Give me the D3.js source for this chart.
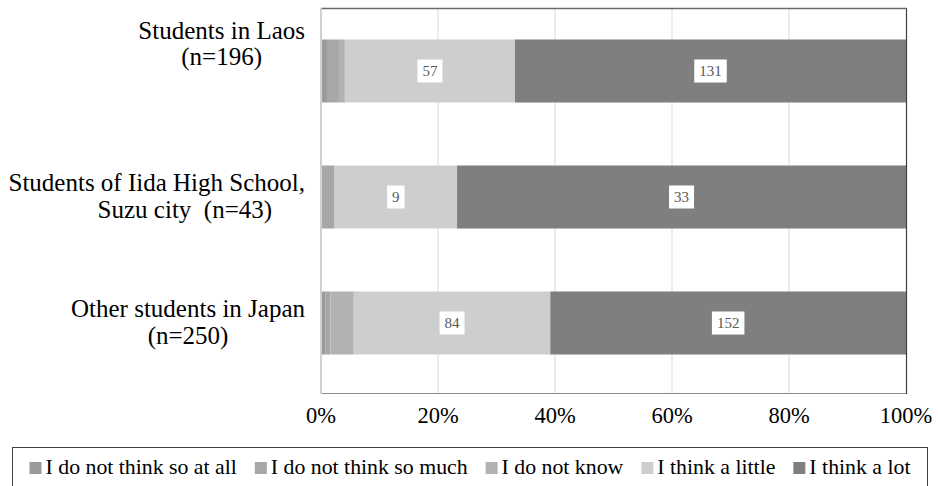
<!DOCTYPE html>
<html>
<head>
<meta charset="utf-8">
<script src="https://cdn.jsdelivr.net/npm/d3@7"></script>
<style>
  html, body { margin: 0; padding: 0; background: #fff; }
  svg { display: block; }
  svg text { font-family: "Liberation Serif", "Times New Roman", Times, serif; }
</style>
</head>
<body>
<svg id="chart" width="938" height="486"></svg>
<script>
// Survey groups (top to bottom); each label is split into its wrapped lines
const groups = ["Laos", "Iida", "Japan"];
const groupLabels = [
  ["Students in Laos", "(n=196)", "", ""],
  ["Students of Iida High School,", "\u00a0\u00a0\u00a0\u00a0\u00a0\u00a0\u00a0\u00a0\u00a0Suzu city  (n=43)"],
  ["Other students in Japan", "(n=250)"]
];

// Answer categories, in stacking order
const answers = ["I do not think so at all", "I do not think so much", "I do not know", "I think a little", "I think a lot"];
const answerColors = ["#9a9a9a", "#a6a7a6", "#b1b2b1", "#cdcecf", "#7f7f7f"];

// Respondent counts per answer, one array per group
const countsLaos  = [2, 4, 2, 57, 131];
const countsIida  = [0, 1, 0, 9, 33];
const countsJapan = [2, 2, 10, 84, 152];
const counts = [countsLaos, countsIida, countsJapan];

// Answers whose counts are printed on the bars
const labelledAnswers = ["I think a little", "I think a lot"];

const tickValues = [0, 0.2, 0.4, 0.6, 0.8, 1];
const tickLabels = ["0%", "20%", "40%", "60%", "80%", "100%"];

const svg = d3.select("#chart");
const plot = { left: 321, right: 906, top: 8, bottom: 393 };

const x = d3.scaleLinear().domain([0, 1]).range([plot.left, plot.right]);
const y = d3.scaleBand().domain(groups).range([plot.top, 386])
  .paddingInner(0.5).paddingOuter(0.25);
const color = d3.scaleOrdinal().domain(answers).range(answerColors);

// Stacked shares per group
const rows = groups.map((g, i) => {
  const row = { group: g };
  const total = d3.sum(counts[i]);
  answers.forEach((a, j) => { row[a] = counts[i][j] / total; row["n_" + a] = counts[i][j]; });
  return row;
});
const stacked = d3.stack().keys(answers)(rows);

// Vertical gridlines
svg.append("g").selectAll("line")
  .data(tickValues.filter(v => v > 0 && v < 1))
  .join("line")
  .attr("x1", d => x(d)).attr("x2", d => x(d))
  .attr("y1", plot.top).attr("y2", plot.bottom)
  .attr("stroke", "#d9d9d9").attr("stroke-width", 1);

// Bars
svg.append("g").selectAll("g")
  .data(stacked)
  .join("g")
  .attr("fill", d => color(d.key))
  .selectAll("rect")
  .data(d => d.filter(s => s[1] - s[0] > 0))
  .join("rect")
  .attr("x", d => x(d[0]))
  .attr("width", d => x(d[1]) - x(d[0]))
  .attr("y", d => y(d.data.group))
  .attr("height", y.bandwidth());

// Value labels in white boxes
const labelLayer = svg.append("g");
stacked.filter(s => labelledAnswers.includes(s.key)).forEach(series => {
  series.forEach(seg => {
    const n = seg.data["n_" + series.key];
    if (!n) return;
    const cx = (x(seg[0]) + x(seg[1])) / 2;
    const cy = y(seg.data.group) + y.bandwidth() / 2;
    const g = labelLayer.append("g");
    const t = g.append("text")
      .attr("x", cx).attr("y", cy + 5)
      .attr("text-anchor", "middle")
      .attr("font-size", 15)
      .attr("fill", "#595959")
      .text(n);
    const w = t.node().getComputedTextLength();
    g.insert("rect", "text")
      .attr("x", cx - w / 2 - 5).attr("y", cy - 11.5)
      .attr("width", w + 10).attr("height", 23)
      .attr("fill", "#fff");
  });
});

// Plot frame
const frame = svg.append("g").attr("fill", "none");
frame.append("line").attr("x1", plot.left).attr("x2", plot.right)
  .attr("y1", plot.bottom + 0.5).attr("y2", plot.bottom + 0.5)
  .attr("stroke", "#8c8c8c").attr("stroke-width", 1);
frame.append("line").attr("x1", plot.right + 0.5).attr("x2", plot.right + 0.5)
  .attr("y1", plot.top).attr("y2", plot.bottom + 1)
  .attr("stroke", "#404040").attr("stroke-width", 1.2);
frame.append("line").attr("x1", plot.left).attr("x2", plot.right + 1)
  .attr("y1", plot.top + 0.5).attr("y2", plot.top + 0.5)
  .attr("stroke", "#6a6a6a").attr("stroke-width", 1.6);
frame.append("line").attr("x1", plot.left).attr("x2", plot.left)
  .attr("y1", plot.top).attr("y2", plot.bottom + 1)
  .attr("stroke", "#d0d0d0").attr("stroke-width", 2);

// Percentage axis labels
svg.append("g").selectAll("text")
  .data(tickValues)
  .join("text")
  .attr("x", d => x(d)).attr("y", 423)
  .attr("text-anchor", "middle")
  .attr("font-size", 22.5)
  .attr("fill", "#000")
  .text((d, i) => tickLabels[i]);

// Group labels, wrapped lines centred within a right-aligned block
const lineH = 26.5;
const labelRight = 305;
groups.forEach((g, i) => {
  const lines = groupLabels[i];
  const cy = y(g) + y.bandwidth() / 2;
  const grp = svg.append("g");
  const texts = lines.map((ln, k) => grp.append("text")
    .attr("y", cy + (k - (lines.length - 1) / 2) * lineH + 7.5)
    .attr("font-size", 25)
    .attr("fill", "#000")
    .attr("text-anchor", "middle")
    .style("white-space", "pre")
    .text(ln));
  const maxW = d3.max(texts, t => t.node().getComputedTextLength());
  texts.forEach(t => t.attr("x", labelRight - maxW / 2));
});

// Legend
const legend = svg.append("g");
legend.append("rect")
  .attr("x", 12.5).attr("y", 447.5).attr("width", 915).attr("height", 60)
  .attr("fill", "#fff").attr("stroke", "#404040").attr("stroke-width", 1);
const items = answers.map(a => {
  const g = legend.append("g");
  g.append("rect").attr("width", 12).attr("height", 12).attr("y", -12).attr("fill", color(a));
  const t = g.append("text").attr("x", 16).attr("font-size", 21.8).attr("fill", "#000").text(a);
  return { g, w: 16 + t.node().getComputedTextLength() };
});
const gap = 18;
const totalW = d3.sum(items, d => d.w) + gap * (items.length - 1);
let cursor = 470 - totalW / 2;
items.forEach(it => {
  it.g.attr("transform", `translate(${cursor},474)`);
  cursor += it.w + gap;
});
</script>
</body>
</html>
